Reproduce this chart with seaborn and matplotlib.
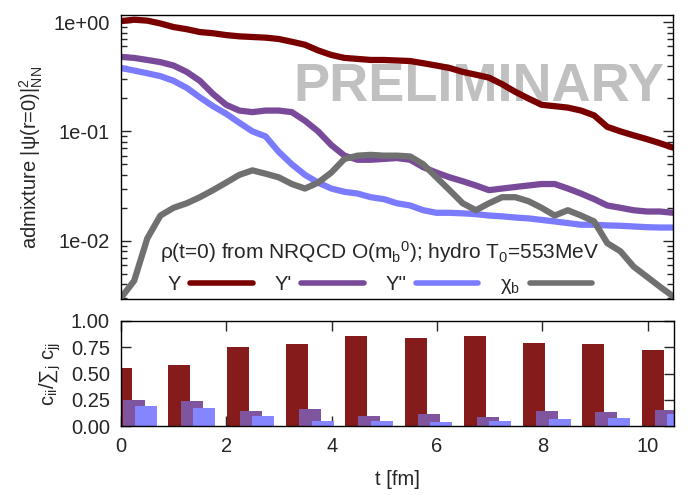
import numpy as np
import pandas as pd
import matplotlib
matplotlib.use("Agg")
import matplotlib.pyplot as plt
import seaborn as sns
from matplotlib.ticker import FixedLocator, FuncFormatter, LogLocator, NullFormatter, NullLocator

# time grid [fm] and state admixtures |psi(r=0)|^2 projected on vacuum states
t = [0.0, 0.25, 0.5, 0.75, 1.0, 1.25, 1.5, 1.75, 2.0, 2.25, 2.5, 2.75, 3.0, 3.25,
     3.5, 3.75, 4.0, 4.25, 4.5, 4.75, 5.0, 5.25, 5.5, 5.75, 6.0, 6.25, 6.5, 6.75,
     7.0, 7.25, 7.5, 7.75, 8.0, 8.25, 8.5, 8.75, 9.0, 9.25, 9.5, 9.75, 10.0,
     10.25, 10.5]
ups1 = [1.02, 1.05, 1.03, 0.97, 0.90, 0.86, 0.81, 0.79, 0.76, 0.74, 0.73, 0.72,
        0.70, 0.66, 0.62, 0.55, 0.50, 0.47, 0.46, 0.45, 0.45, 0.445, 0.44, 0.42,
        0.40, 0.38, 0.35, 0.33, 0.31, 0.27, 0.23, 0.20, 0.175, 0.17, 0.165, 0.155,
        0.14, 0.11, 0.10, 0.092, 0.085, 0.078, 0.071]
ups2 = [0.48, 0.47, 0.45, 0.43, 0.40, 0.35, 0.29, 0.22, 0.175, 0.155, 0.15, 0.155,
        0.155, 0.15, 0.125, 0.10, 0.075, 0.06, 0.055, 0.055, 0.056, 0.057, 0.055,
        0.047, 0.042, 0.038, 0.035, 0.032, 0.029, 0.030, 0.031, 0.032, 0.033,
        0.033, 0.030, 0.027, 0.024, 0.021, 0.020, 0.019, 0.0185, 0.0185, 0.018]
ups3 = [0.38, 0.36, 0.34, 0.32, 0.29, 0.25, 0.205, 0.17, 0.145, 0.12, 0.10, 0.09,
        0.065, 0.050, 0.040, 0.034, 0.030, 0.028, 0.027, 0.025, 0.024, 0.022,
        0.021, 0.019, 0.018, 0.018, 0.0178, 0.0175, 0.017, 0.0167, 0.0163, 0.016,
        0.0155, 0.015, 0.0145, 0.014, 0.014, 0.0138, 0.0137, 0.0135, 0.0133,
        0.0132, 0.0132]
chib = [0.0030, 0.0043, 0.0105, 0.017, 0.020, 0.022, 0.025, 0.029, 0.034, 0.040,
        0.044, 0.041, 0.038, 0.033, 0.030, 0.034, 0.042, 0.056, 0.060, 0.061,
        0.060, 0.060, 0.059, 0.050, 0.038, 0.029, 0.022, 0.019, 0.022, 0.025,
        0.025, 0.023, 0.020, 0.017, 0.019, 0.017, 0.015, 0.0095, 0.008, 0.0058,
        0.0047, 0.0038, 0.0031]

# normalised diagonal weights c_ii / sum_j c_jj at snapshot times
t_snap = [0.0, 1.1, 2.22, 3.35, 4.47, 5.6, 6.72, 7.85, 8.97, 10.1]
frac1 = [0.55, 0.58, 0.75, 0.78, 0.86, 0.84, 0.86, 0.79, 0.78, 0.72]
frac2 = [0.25, 0.24, 0.14, 0.16, 0.095, 0.115, 0.085, 0.14, 0.135, 0.15]
frac3 = [0.19, 0.17, 0.095, 0.05, 0.048, 0.038, 0.048, 0.067, 0.076, 0.11]

labels = ["Υ", "Υ'", "Υ''", "χ$_\\mathrm{b}$"]
line_colors = ["#7a0000", "#7a4a9a", "#7b7bff", "#707070"]
bar_colors = ["#861b1b", "#7f559f", "#8585ff"]

sns.set_theme(style="ticks")
plt.rcParams["font.family"] = ["Liberation Sans", "DejaVu Sans"]
plt.rcParams["mathtext.fontset"] = "custom"
plt.rcParams["mathtext.rm"] = "Liberation Sans"
plt.rcParams["mathtext.it"] = "Liberation Sans:italic"
plt.rcParams["mathtext.bf"] = "Liberation Sans:bold"
FS = 14.5
LW = 4.5

fig = plt.figure(figsize=(7.0, 4.95), dpi=100)
ax1 = fig.add_axes([121 / 700, 1 - 299 / 495, 552 / 700, 284 / 495])
ax2 = fig.add_axes([121 / 700, 1 - 426 / 495, 553 / 700, 105 / 495])

# ---- upper panel: admixtures vs time ----
long = pd.DataFrame({
    "t": t * 4,
    "value": ups1 + ups2 + ups3 + chib,
    "state": sum([[lab] * len(t) for lab in labels], []),
})
sns.lineplot(data=long, x="t", y="value", hue="state", hue_order=labels,
             palette=dict(zip(labels, line_colors)), linewidth=LW,
             ax=ax1, legend=True, zorder=3)
ax1.set_yscale("log")
ax1.set_xlim(0, 10.5)
ax1.set_ylim(0.00293, 1.16)
ax1.set_xlabel("")
ax1.set_ylabel("admixture |ψ(r=0)|$^2_{\\mathrm{NN}}$", fontsize=FS, labelpad=6)
ax1.yaxis.set_major_locator(FixedLocator([1e-2, 1e-1, 1e0]))
ax1.yaxis.set_major_formatter(FuncFormatter(lambda v, p: f"{v:.0e}"))
ax1.yaxis.set_minor_locator(LogLocator(base=10, subs=np.arange(2, 10)))
ax1.yaxis.set_minor_formatter(NullFormatter())
ax1.xaxis.set_major_locator(NullLocator())
ax1.xaxis.set_minor_locator(NullLocator())
ax1.tick_params(axis="y", which="major", direction="in", length=7, width=1,
                labelsize=FS, right=True, pad=8)
ax1.tick_params(axis="y", which="minor", direction="in", length=4, width=1,
                right=True)

ax1.text(0.649, 0.745, "PRELIMINARY", transform=ax1.transAxes, ha="center",
         va="center", fontsize=39, fontweight="bold", color="#c0c0c0", zorder=0.5)

handles, _ = ax1.get_legend_handles_labels()
leg = ax1.legend(handles, labels, ncol=4, loc="lower center",
                 bbox_to_anchor=(0.469, -0.032), frameon=False, markerfirst=False,
                 fontsize=FS, handlelength=3.1, handletextpad=0.45,
                 columnspacing=1.1, borderaxespad=0.2,
                 title="ρ(t=0) from NRQCD O(m$_\\mathrm{b}$$^0$); hydro T$_0$=553MeV",
                 title_fontsize=15)
for h in leg.get_lines():
    h.set_linewidth(4.0)

# ---- lower panel: normalised weights ----
for vals, col, off in zip([frac1, frac2, frac3], bar_colors, [0.0, 0.24, 0.48]):
    sns.barplot(x=np.array(t_snap) + off, y=vals, native_scale=True,
                width=0.42 / 1.1, color=col, saturation=1, linewidth=0,
                ax=ax2, zorder=2)
ax2.set_xlim(0, 10.5)
ax2.set_ylim(0, 1.0)
ax2.xaxis.set_major_locator(FixedLocator([0, 2, 4, 6, 8, 10]))
ax2.xaxis.set_major_formatter(FuncFormatter(lambda v, p: f"{v:g}"))
ax2.yaxis.set_major_locator(FixedLocator([0, 0.25, 0.5, 0.75, 1.0]))
ax2.yaxis.set_major_formatter(FuncFormatter(lambda v, p: f"{v:.2f}"))
ax2.tick_params(axis="both", which="major", direction="in", length=7, width=1,
                labelsize=FS, right=True, top=True, pad=8)
ax2.set_xlabel("t [fm]", fontsize=FS, labelpad=10)
ax2.set_ylabel("c$_\\mathrm{ii}$/∑$_\\mathrm{j}$ c$_\\mathrm{jj}$", fontsize=FS,
               labelpad=6)

for ax in (ax1, ax2):
    for sp in ax.spines.values():
        sp.set_visible(True)
        sp.set_linewidth(1.0)
        sp.set_color("black")
        sp.set_zorder(5)

fig.savefig("out.png", dpi=100)
